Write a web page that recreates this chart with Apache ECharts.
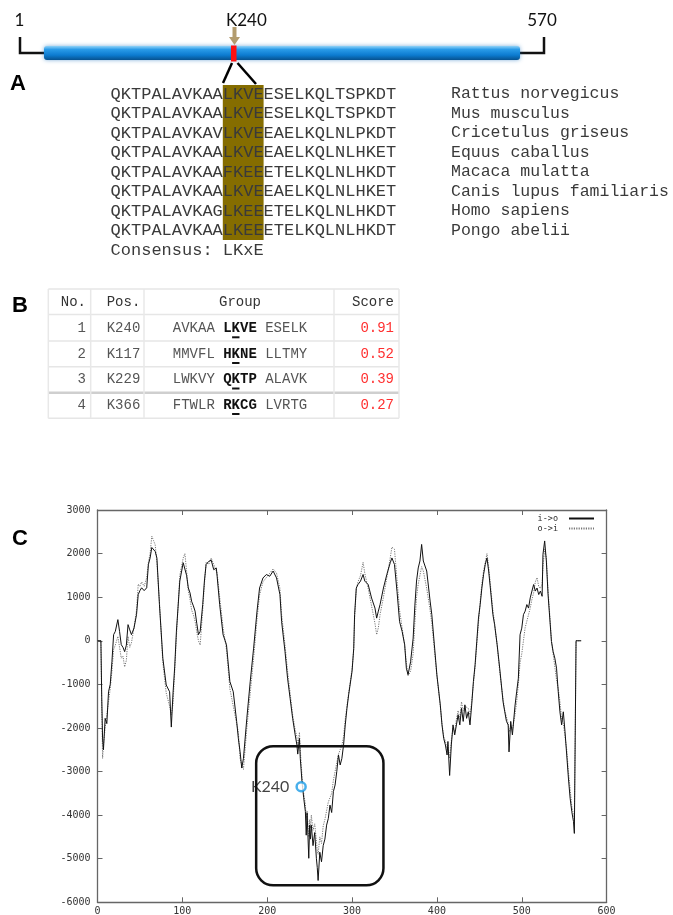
<!DOCTYPE html>
<html>
<head>
<meta charset="utf-8">
<script src="https://cdn.jsdelivr.net/npm/echarts@6/dist/echarts.min.js"></script>
<style>
html,body{margin:0;padding:0;background:#fff}
#main{width:673px;height:915px}
</style>
</head>
<body>
<div id="main"></div>
<script>
// panel C - hydropathy profile
var residues = [0,4,5,6,7,9,11,13,15,17,19,21,24,26,28,30,32,34,36,38,40,43,46,48,50,52,55,58,60,62,64,66,68,70,73,77,81,85,87,89,91,93,97,101,103,105,107,109,111,113,115,117,119,121,124,126,128,131,134,137,140,141,144,148,152,156,160,164,166,168,170,172,176,180,184,188,191,195,199,203,207,211,215,217,221,224,227,230,233,235,236,238,239,241,243,245,246,247,249,250,251,252,254,256,258,259,260,262,264,266,268,270,272,274,276,278,280,282,284,286,288,290,292,294,296,300,302,303,305,307,310,313,315,319,323,327,329,331,333,337,341,345,347,350,353,356,359,362,364,366,369,372,374,376,378,380,382,384,386,388,392,394,397,400,404,406,408,410,412,413,415,417,419,421,423,425,427,429,431,433,435,437,439,441,443,445,447,449,451,453,455,457,459,461,463,466,468,471,474,478,480,482,484,485,487,489,492,494,496,498,500,502,504,506,508,510,512,514,516,518,520,522,524,525,527,529,531,533,535,537,539,541,543,545,547,549,551,553,555,557,559,561,562,563,564,570];
var inToOut = [0,0,-1300,-2250,-2500,-1780,-1900,-1170,-1000,-480,140,215,485,215,-90,-150,-250,-100,370,250,140,290,600,1060,1150,1215,1150,1215,1750,1900,2140,2150,2050,1900,830,-400,-1015,-1170,-1980,-1200,-600,215,1370,1790,1830,1500,1215,1100,900,800,680,400,140,215,830,1370,1750,1820,1850,1630,1670,1480,830,140,-90,-935,-1170,-1850,-2240,-2540,-2920,-2700,-1780,-935,-170,680,1210,1440,1520,1480,1600,1440,1060,440,-250,-860,-1320,-1780,-2160,-2390,-2600,-2240,-2700,-3230,-3600,-3920,-4460,-3950,-4990,-4230,-4550,-4230,-4700,-4400,-5000,-5200,-5500,-4850,-5070,-4700,-4550,-4230,-4080,-3770,-3940,-3460,-3310,-3000,-2620,-2850,-2700,-2390,-1930,-1550,-1240,-700,-170,600,1210,1290,1370,1520,1370,1290,980,750,520,680,830,1210,1520,1790,1900,1750,1130,440,215,-90,-630,-780,-480,60,800,1370,1670,1830,2210,1830,1790,1600,910,600,-90,-785,-1470,-1930,-2240,-2390,-2620,-2310,-3090,-2390,-1930,-2160,-1930,-1700,-1930,-1550,-1850,-1470,-1780,-1630,-1930,-1470,-940,-550,-15,520,830,1210,1520,1750,1900,1600,1210,600,370,-90,-630,-1400,-1630,-1850,-1930,-2550,-1850,-2160,-1500,-1170,-860,140,290,600,680,830,750,985,1140,1290,1140,1210,1060,1140,1020,1980,2290,1830,1060,520,-15,-250,-400,-630,-1170,-1630,-1930,-1630,-2090,-2620,-3150,-3610,-3920,-4150,-4420,-2200,0,0];
var outToIn = [0,0,-1500,-2700,-2400,-2000,-1700,-1400,-1100,-700,-200,-100,100,-150,-400,-350,-600,-450,100,-150,-50,300,700,1300,1250,1350,1250,1450,1800,2000,2400,2300,2200,1800,900,-500,-1200,-1500,-1700,-1450,-700,100,1500,1900,2000,1600,1150,950,700,600,450,200,0,-100,700,1300,1800,1750,1900,1750,1600,1550,1000,300,-200,-1100,-1500,-1900,-2100,-2700,-2850,-2950,-2000,-1200,-400,500,1050,1350,1450,1550,1650,1550,1200,600,-100,-700,-1200,-1700,-2050,-2200,-2450,-2100,-2500,-3100,-3500,-3750,-4100,-3900,-4500,-4100,-4300,-4000,-4350,-4200,-4600,-4800,-4900,-4500,-4650,-4250,-4100,-3900,-3700,-3600,-3500,-3200,-3000,-2800,-2600,-2500,-2400,-2200,-1800,-1500,-1200,-650,-200,500,1200,1350,1500,1800,1550,1200,800,400,140,300,600,1000,1450,1900,2150,2100,1400,700,300,-100,-500,-800,-700,-300,400,1000,1300,1500,1700,1600,1400,1200,700,400,-200,-800,-1500,-1900,-2200,-2300,-2500,-2400,-2700,-2300,-2000,-2100,-1800,-1600,-1800,-1400,-1600,-1500,-1500,-1550,-1700,-1400,-1000,-600,-100,400,900,1300,1600,1800,2000,1700,1300,700,400,-100,-700,-1350,-1600,-1750,-1900,-2100,-1950,-2050,-1700,-1400,-1000,-500,-300,0,300,450,600,750,950,1100,1350,1450,1250,1200,1300,1700,2100,1900,1150,600,0,-300,-600,-900,-1100,-1400,-1800,-1900,-2200,-2500,-3000,-3400,-3800,-4000,-4100,-2200,0,0];
var markPoint = [240, -3350];
var boxRange = [187, -2420, 337, -5610];

// panel A - alignment
var sequences = [
  'QKTPALAVKAALKVEESELKQLTSPKDT',
  'QKTPALAVKAALKVEESELKQLTSPKDT',
  'QKTPALAVKAVLKVEEAELKQLNLPKDT',
  'QKTPALAVKAALKVEEAELKQLNLHKET',
  'QKTPALAVKAAFKEEETELKQLNLHKDT',
  'QKTPALAVKAALKVEEAELKQLNLHKET',
  'QKTPALAVKAGLKEEETELKQLNLHKDT',
  'QKTPALAVKAALKEEETELKQLNLHKDT'
];
var species = ['Rattus norvegicus', 'Mus musculus', 'Cricetulus griseus', 'Equus caballus',
  'Macaca mulatta', 'Canis lupus familiaris', 'Homo sapiens', 'Pongo abelii'];
var consensus = 'Consensus: LKxE';

// panel B - table
var colHeads = ['No.', 'Pos.', 'Group', 'Score'];
var rowNo = ['1', '2', '3', '4'];
var rowPos = ['K240', 'K117', 'K229', 'K366'];
var groupLeft = ['AVKAA', 'MMVFL', 'LWKVY', 'FTWLR'];
var groupMotif = ['LKVE', 'HKNE', 'QKTP', 'RKCG'];
var groupRight = ['ESELK', 'LLTMY', 'ALAVK', 'LVRTG'];
var rowScore = ['0.91', '0.52', '0.39', '0.27'];

var MONO = '"Liberation Mono", "DejaVu Sans Mono", monospace';
var SANS = 'Lato, "Liberation Sans", sans-serif';

function txt(x, y, s, font, fill, align, z) {
  return {
    type: 'text', x: x, y: y, z: z || 10,
    style: {
      text: s, font: font, fill: fill || '#222',
      align: align || 'left', textAlign: align || 'left',
      verticalAlign: 'middle', textVerticalAlign: 'middle'
    }
  };
}
function seg(x1, y1, x2, y2, color, w) {
  return {
    type: 'line', z: 5,
    shape: { x1: x1, y1: y1, x2: x2, y2: y2 },
    style: { stroke: color, lineWidth: w }
  };
}

var g = [];

// panel letters
g.push(txt(18, 84, 'A', 'bold 22px "Liberation Sans", Arial, sans-serif', '#000', 'center'));
g.push(txt(20, 306, 'B', 'bold 22px "Liberation Sans", Arial, sans-serif', '#000', 'center'));
g.push(txt(20, 539, 'C', 'bold 22px "Liberation Sans", Arial, sans-serif', '#000', 'center'));

// protein schematic
g.push(txt(19.5, 21, '1', '17px ' + SANS, '#111', 'center'));
g.push(txt(226, 21, 'K240', '17px ' + SANS, '#111', 'left'));
g.push(txt(542, 21, '570', '17px ' + SANS, '#111', 'center'));
g.push({
  type: 'polyline', z: 5,
  shape: { points: [[20, 37], [20, 53], [46, 53]] },
  style: { stroke: '#111', lineWidth: 2.5, fill: null }
});
g.push({
  type: 'polyline', z: 5,
  shape: { points: [[518, 53], [544, 53], [544, 37]] },
  style: { stroke: '#111', lineWidth: 2.5, fill: null }
});
g.push({
  type: 'rect', z: 6,
  shape: { x: 44, y: 46, width: 476, height: 14, r: 3 },
  style: {
    fill: {
      type: 'linear', x: 0, y: 0, x2: 0, y2: 1,
      colorStops: [
        { offset: 0, color: '#8fd2f8' },
        { offset: 0.25, color: '#2a9be8' },
        { offset: 0.65, color: '#0c7bd0' },
        { offset: 1, color: '#07528f' }
      ]
    },
    shadowBlur: 4, shadowColor: 'rgba(20,110,190,0.55)'
  }
});
g.push({
  type: 'rect', z: 7,
  shape: { x: 231, y: 45.5, width: 5.5, height: 16 },
  style: { fill: '#ff1010' }
});
g.push(seg(234.5, 27, 234.5, 38, '#b39c6e', 4));
g.push({
  type: 'polygon', z: 6,
  shape: { points: [[229, 37], [240, 37], [234.5, 45]] },
  style: { fill: '#b39c6e' }
});
g.push(seg(232, 63, 223, 83, '#000', 2.5));
g.push(seg(237.5, 63, 256, 84, '#000', 2.5));

// alignment
var seqX = 110.6, cw = 10.2, rowY = 94, rowH = 19.5;
g.push({
  type: 'rect', z: 3,
  shape: { x: seqX + 11 * cw, y: 85, width: 4 * cw, height: 155 },
  style: { fill: '#856d00' }
});
sequences.forEach(function (s, i) {
  g.push(txt(seqX, rowY + i * rowH, s, '17px ' + MONO, '#3a3a3a'));
  g.push(txt(451, rowY + i * rowH, species[i], '16.5px ' + MONO, '#3a3a3a'));
});
g.push(txt(seqX, rowY + 8 * rowH, consensus, '17px ' + MONO, '#3a3a3a'));

// table
var tL = 48.3, tR = 399, cols = [90.7, 144, 334];
var hLines = [289, 314.5, 341, 366.7, 392.7, 418.3];
var rowMid = [302.7, 328.3, 354, 379.5, 405];
hLines.forEach(function (y, i) {
  g.push(seg(tL, y, tR, y, i === 4 ? '#cfcfcf' : '#e6e6e6', i === 4 ? 2.5 : 1.5));
});
[tL].concat(cols).concat([tR]).forEach(function (x) {
  g.push(seg(x, hLines[0], x, hLines[5], '#e8e8e8', 1.5));
});
var tf = '14px ' + MONO;
g.push(txt(86, rowMid[0], colHeads[0], tf, '#333', 'right'));
g.push(txt(106.7, rowMid[0], colHeads[1], tf, '#333', 'left'));
g.push(txt(240, rowMid[0], colHeads[2], tf, '#333', 'center'));
g.push(txt(394, rowMid[0], colHeads[3], tf, '#333', 'right'));
var tcw = 8.4, gx = 240 - 8 * tcw;
rowNo.forEach(function (n, i) {
  var y = rowMid[i + 1];
  g.push(txt(86, y, n, tf, '#555', 'right'));
  g.push(txt(106.7, y, rowPos[i], tf, '#555', 'left'));
  g.push(txt(gx, y, groupLeft[i], tf, '#555', 'left'));
  g.push(txt(gx + 6 * tcw, y, groupMotif[i], 'bold ' + tf, '#111', 'left'));
  g.push(txt(gx + 11 * tcw, y, groupRight[i], tf, '#555', 'left'));
  g.push(seg(gx + 7 * tcw + 0.5, y + 9, gx + 8 * tcw - 0.5, y + 9, '#111', 2));
  g.push(txt(394, y, rowScore[i], tf, '#ff3030', 'right'));
});

var lineIO = residues.map(function (r, i) { return [r, inToOut[i]]; });
var lineOI = residues.map(function (r, i) { return [r, outToIn[i]]; });

var axisCol = '#666';
var labelStyle = {
  fontFamily: '"DejaVu Sans Mono", monospace', fontSize: 10, color: '#333',
  formatter: function (v) { return String(v); }
};

var option = {
  animation: false,
  backgroundColor: '#fff',
  grid: { left: 97.5, right: 66.4, top: 510, bottom: 12.7, containLabel: false, outerBoundsMode: 'none' },
  legend: {
    data: ['i->o', 'o->i'],
    orient: 'vertical', align: 'right',
    right: 78, top: 514, padding: 0, itemGap: 1,
    itemWidth: 25, itemHeight: 8,
    itemStyle: { opacity: 0 },
    textStyle: { fontFamily: '"DejaVu Sans Mono", monospace', fontSize: 8.5, color: '#333', padding: [0, 6, 0, 0] }
  },
  xAxis: [{
    type: 'value', min: 0, max: 600, interval: 100,
    axisLine: { onZero: false, lineStyle: { color: axisCol, width: 1.3 } },
    axisTick: { inside: true, length: 5, lineStyle: { color: axisCol } },
    axisLabel: Object.assign({ margin: 4 }, labelStyle),
    splitLine: { show: false }
  }, {
    type: 'value', position: 'top', min: 0, max: 600, interval: 100,
    axisLine: { onZero: false, lineStyle: { color: axisCol, width: 1.3 } },
    axisTick: { inside: true, length: 5, lineStyle: { color: axisCol } },
    axisLabel: { show: false }, splitLine: { show: false }
  }],
  yAxis: [{
    type: 'value', min: -6000, max: 3000, interval: 1000,
    axisLine: { show: true, onZero: false, lineStyle: { color: axisCol, width: 1.3 } },
    axisTick: { show: true, inside: true, length: 5, lineStyle: { color: axisCol } },
    axisLabel: Object.assign({ margin: 7 }, labelStyle),
    splitLine: { show: false }
  }, {
    type: 'value', position: 'right', min: -6000, max: 3000, interval: 1000,
    axisLine: { show: true, onZero: false, lineStyle: { color: axisCol, width: 1.3 } },
    axisTick: { show: true, inside: true, length: 5, lineStyle: { color: axisCol } },
    axisLabel: { show: false }, splitLine: { show: false }
  }],
  series: [{
    name: 'o->i', type: 'line', data: lineOI, symbol: 'none', z: 2,
    lineStyle: { color: '#777', width: 1, type: [1.2, 1.2] },
    itemStyle: { color: '#777' }
  }, {
    name: 'i->o', type: 'line', data: lineIO, symbol: 'none', z: 3,
    lineStyle: { color: '#111', width: 1 },
    itemStyle: { color: '#111' }
  }, {
    // rounded highlight box around the K240 dip
    type: 'custom', z: 4, silent: true,
    data: [boxRange],
    renderItem: function (params, api) {
      var p1 = api.coord([api.value(0), api.value(1)]);
      var p2 = api.coord([api.value(2), api.value(3)]);
      return {
        type: 'rect',
        shape: { x: p1[0], y: p1[1], width: p2[0] - p1[0], height: p2[1] - p1[1], r: 17 },
        style: { fill: 'none', stroke: '#111', lineWidth: 2.5 }
      };
    }
  }, {
    type: 'scatter', z: 5, data: [markPoint],
    symbol: 'circle', symbolSize: 9,
    itemStyle: { color: '#fff', borderColor: '#1a9be6', borderWidth: 2.5 },
    label: {
      show: true, position: 'left', distance: 6, formatter: 'K240',
      fontFamily: SANS, fontSize: 16, color: '#111'
    }
  }],
  graphic: { elements: g }
};

var chart = echarts.init(document.getElementById('main'), null, { renderer: 'canvas' });
chart.setOption(option);
</script>
</body>
</html>
